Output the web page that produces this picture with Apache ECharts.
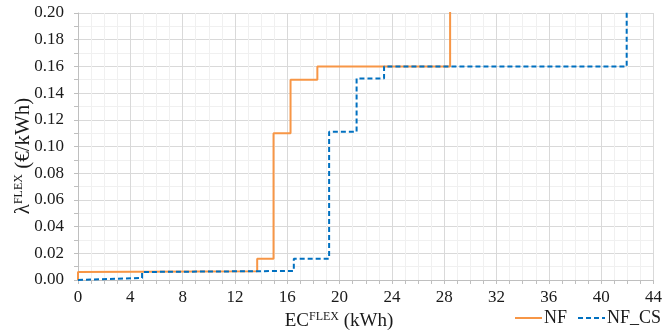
<!DOCTYPE html>
<html><head><meta charset="utf-8">
<script src="https://cdn.jsdelivr.net/npm/echarts@6/dist/echarts.min.js"></script>
<style>html,body{margin:0;padding:0;background:#fff}#c{width:665px;height:333px}</style>
</head><body><div id="c"></div>
<script>
const seriesNames = ['NF', 'NF_CS'];
const nfX = [0, 0, 13.7, 13.7, 14.95, 14.95, 16.25, 16.25, 18.3, 18.3, 28.45, 28.45];
const nfY = [0, 0.006, 0.0065, 0.016, 0.016, 0.110, 0.110, 0.150, 0.150, 0.160, 0.160, 0.21];
const csX = [0, 4.9, 4.9, 16.5, 16.5, 19.2, 19.2, 21.3, 21.3, 23.4, 23.4, 41.95, 41.95];
const csY = [0, 0.0015, 0.006, 0.0068, 0.016, 0.016, 0.111, 0.111, 0.151, 0.151, 0.160, 0.160, 0.21];
const xTicks = {min: 0, max: 44, step: 4};
const yTicks = {min: 0, max: 0.20, step: 0.02};

const font = 'Liberation Serif';
const txt = '#1a1a1a';
const pairs = (xs, ys) => xs.map((x, i) => [x, ys[i]]);
const supRich = {sup: {fontFamily: font, fontSize: 12, fill: txt, color: txt, verticalAlign: 'top', padding: [0, 0, 9, 0]}};

const chart = echarts.init(document.getElementById('c'));
chart.setOption({
  animation: false,
  textStyle: {fontFamily: font, color: txt},
  grid: {left: 78, right: 11, top: 13, bottom: 53, containLabel: false},
  legend: {
    left: 514, top: 309, width: 200, padding: 0, itemWidth: 27, itemHeight: 10, itemGap: 10,
    itemStyle: {opacity: 0},
    textStyle: {fontFamily: font, fontSize: 18, color: txt, padding: [0, 0, 0, -3]},
    data: seriesNames
  },
  graphic: [
    {type: 'text', x: 339, y: 321,
     style: {text: 'EC{sup|FLEX} (kWh)', font: '19px "Liberation Serif"', fill: txt,
             align: 'center', verticalAlign: 'middle', rich: supRich}},
    {type: 'text', x: 23, y: 156, rotation: Math.PI / 2,
     style: {text: 'λ{sup|FLEX} (€/kWh)', font: '21px "Liberation Serif"', fill: txt,
             align: 'center', verticalAlign: 'middle', rich: supRich}}
  ],
  xAxis: {
    type: 'value', min: xTicks.min, max: xTicks.max, interval: xTicks.step,
    axisLine: {lineStyle: {color: '#bfbfbf', width: 1}},
    axisTick: {show: true, length: 4, lineStyle: {color: '#bfbfbf'}},
    minorTick: {show: true, splitNumber: 4, length: 4, lineStyle: {color: '#bfbfbf'}},
    splitLine: {show: true, lineStyle: {color: '#d9d9d9', width: 1}},
    minorSplitLine: {show: true, lineStyle: {color: '#f0f0f0', width: 1}},
    axisLabel: {fontFamily: font, fontSize: 17, color: txt, margin: 9}
  },
  yAxis: {
    type: 'value', min: yTicks.min, max: yTicks.max, interval: yTicks.step,
    axisLine: {show: true, lineStyle: {color: '#bfbfbf', width: 1}},
    axisTick: {show: true, length: 4, lineStyle: {color: '#bfbfbf'}},
    minorTick: {show: true, splitNumber: 2, length: 4, lineStyle: {color: '#bfbfbf'}},
    splitLine: {show: true, lineStyle: {color: '#d9d9d9', width: 1}},
    minorSplitLine: {show: true, lineStyle: {color: '#f0f0f0', width: 1}},
    axisLabel: {fontFamily: font, fontSize: 17, color: txt, margin: 14,
                formatter: v => v.toFixed(2)}
  },
  series: [
    {name: seriesNames[0], type: 'line', data: pairs(nfX, nfY), symbol: 'none', clip: true,
     color: '#F79646', lineStyle: {color: '#F79646', width: 2}},
    {name: seriesNames[1], type: 'line', data: pairs(csX, csY), symbol: 'none', clip: true,
     color: '#0070C0', lineStyle: {color: '#0070C0', width: 2, type: [5, 3]}}
  ]
});
</script></body></html>
